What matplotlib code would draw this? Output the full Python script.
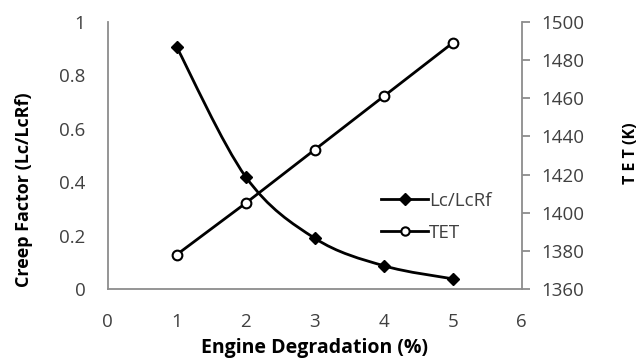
import numpy as np
import matplotlib
matplotlib.use("Agg")
import matplotlib.pyplot as plt
from matplotlib.path import Path
from matplotlib.patches import PathPatch
from matplotlib.lines import Line2D

# =============================================================================
# Data
# =============================================================================
degradation = [1, 2, 3, 4, 5]
creep_factor = [0.906, 0.42, 0.19, 0.087, 0.038]
tet = [1378, 1405, 1433, 1461, 1489]

x_ticks = [0, 1, 2, 3, 4, 5, 6]
left_ticks = [0, 0.2, 0.4, 0.6, 0.8, 1]
left_tick_labels = ["0", "0.2", "0.4", "0.6", "0.8", "1"]
right_ticks = [1360, 1380, 1400, 1420, 1440, 1460, 1480, 1500]

plt.rcParams['font.family'] = ['Open Sans', 'DejaVu Sans']
tick_col = '#404040'
spine_col = '#8c8c8c'


# smooth curve through the points, like Excel's "smoothed line"
def smoothPath(xs, ys):
    pts = np.column_stack([xs, ys]).astype(float)
    verts = [pts[0]]
    codes = [Path.MOVETO]
    n = len(pts)
    for i in range(n - 1):
        p0 = pts[i - 1] if i > 0 else pts[i]
        p1 = pts[i]
        p2 = pts[i + 1]
        p3 = pts[i + 2] if i + 2 < n else pts[i + 1]
        c1 = p1 + (p2 - p0) / 6.0
        c2 = p2 - (p3 - p1) / 6.0
        verts += [c1, c2, p2]
        codes += [Path.CURVE4] * 3
    return Path(verts, codes)


fig = plt.figure(figsize=(6.41, 3.59), dpi=100)
ax = fig.add_axes([0.168, 0.195, 0.646, 0.744])
ax2 = ax.twinx()

# creep factor: smoothed line with filled diamonds
ax.add_patch(PathPatch(smoothPath(degradation, creep_factor), fill=False,
                       edgecolor='black', lw=2, zorder=3))
ax.plot(degradation, creep_factor, ls='None', marker='D', markersize=6,
        color='black', zorder=4)

# TET: straight line with open circles
ax2.plot(degradation, tet, color='black', lw=2, marker='o', markersize=7,
         markerfacecolor='white', markeredgecolor='black', markeredgewidth=1.5)

ax.set_xlim(0, 6)
ax.set_ylim(0, 1)
ax2.set_ylim(1360, 1500)
ax.set_xticks(x_ticks)
ax.set_yticks(left_ticks)
ax.set_yticklabels(left_tick_labels)
ax2.set_yticks(right_ticks)

for a in (ax, ax2):
    a.spines['top'].set_visible(False)
    for s in a.spines.values():
        s.set_color(spine_col)
        s.set_linewidth(1.3)
ax.spines['right'].set_visible(False)
ax2.spines['left'].set_visible(False)
ax2.spines['bottom'].set_visible(False)

ax.tick_params(axis='both', length=0, labelsize=13.5, colors=tick_col)
ax.tick_params(axis='x', pad=17)
ax.tick_params(axis='y', pad=16)
ax2.tick_params(axis='y', length=6, width=1.3, color=spine_col, direction='out',
                labelsize=13.5, labelcolor=tick_col, pad=8)

ax.set_xlabel("Engine Degradation (%)", fontsize=14, fontweight='bold')
ax.set_ylabel("Creep Factor (Lc/LcRf)", fontsize=13, fontweight='bold')
ax2.set_ylabel("T E T (K)", fontsize=11.5, fontweight='bold')
ax.xaxis.set_label_coords(0.5, -0.185)
ax.yaxis.set_label_coords(-0.18, 0.371)
ax2.yaxis.set_label_coords(1.245, 0.51)

handles = [Line2D([], [], color='black', lw=2, marker='D', markersize=6),
           Line2D([], [], color='black', lw=2, marker='o', markersize=6,
                  markerfacecolor='white', markeredgewidth=1.5)]
ax2.legend(handles, ["Lc/LcRf", "TET"], loc='center left',
           bbox_to_anchor=(0.62, 0.27), frameon=False, fontsize=13.5,
           handlelength=2.5, handletextpad=0.05, labelspacing=0.75,
           labelcolor=tick_col)

fig.savefig("out.png", dpi=100)
